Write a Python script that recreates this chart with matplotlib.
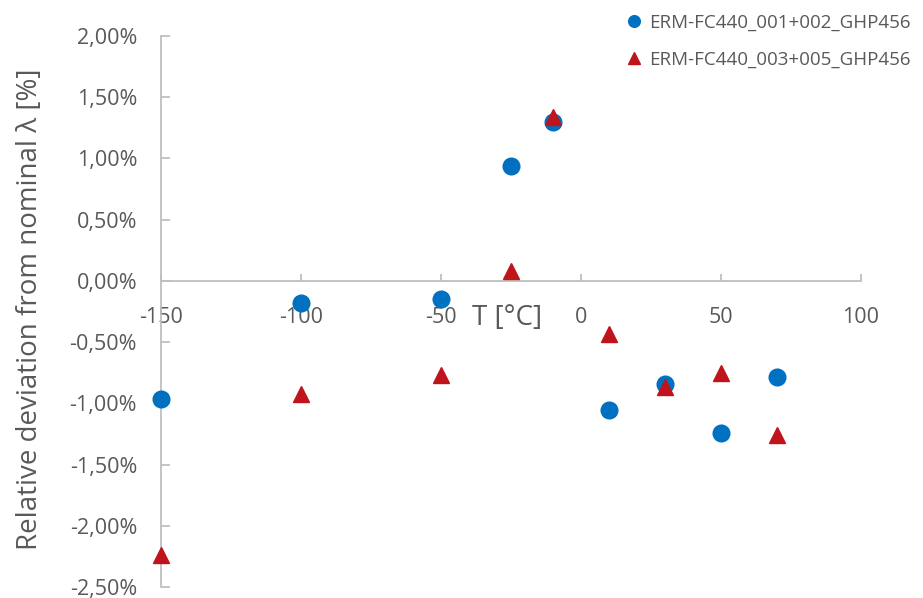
import matplotlib
matplotlib.use("Agg")
import matplotlib.pyplot as plt
from matplotlib.ticker import FuncFormatter, MultipleLocator

plt.rcParams['font.family'] = ['Open Sans', 'DejaVu Sans']

temps_a = [-150, -100, -50, -25, -10, 10, 30, 50, 70]
dev_a = [-0.966, -0.177, -0.147, 0.941, 1.296, -1.053, -0.841, -1.243, -0.789]
temps_b = [-150, -100, -50, -25, -10, 10, 30, 50, 70]
dev_b = [-2.242, -0.92, -0.767, 0.084, 1.336, -0.433, -0.868, -0.754, -1.26]
label_a = "ERM-FC440_001+002_GHP456"
label_b = "ERM-FC440_003+005_GHP456"

blue = '#0070C0'
red = '#C0141C'
gray_txt = '#595959'
gray_line = '#BFBFBF'

fig = plt.figure(figsize=(9.23, 5.98), dpi=100)
ax = fig.add_axes([0.1741, 0.0184, 0.7584, 0.9214])

ax.plot(temps_a, dev_a, linestyle='none', marker='o', markersize=12,
        color=blue, label=label_a, clip_on=False, zorder=3)
ax.plot(temps_b, dev_b, linestyle='none', marker='^', markersize=12,
        color=red, label=label_b, clip_on=False, zorder=4)

ax.set_xlim(-150, 100)
ax.set_ylim(-2.5, 2.0)
ax.xaxis.set_major_locator(MultipleLocator(50))
ax.yaxis.set_major_locator(MultipleLocator(0.5))
ax.yaxis.set_major_formatter(FuncFormatter(lambda v, p: f"{v:.2f}%".replace('.', ',')))
ax.xaxis.set_major_formatter(FuncFormatter(lambda v, p: f"{int(round(v))}"))

for s in ['top', 'right']:
    ax.spines[s].set_visible(False)
ax.spines['bottom'].set_position(('data', 0))
ax.spines['bottom'].set_color(gray_line)
ax.spines['left'].set_color(gray_line)
ax.spines['bottom'].set_linewidth(1.3)
ax.spines['left'].set_linewidth(1.3)

ax.tick_params(axis='y', direction='in', length=6.5, width=1.3, color=gray_line,
               labelcolor=gray_txt, labelsize=15.5, pad=17)
ax.tick_params(axis='x', direction='in', length=5, width=1.3, color=gray_line,
               labelcolor=gray_txt, labelsize=15.5, pad=18.5)

fig.text(30 / 923, 1 - 309 / 598, "Relative deviation from nominal λ [%]",
         rotation=90, ha='center', va='center', fontsize=20, color=gray_txt)
fig.text(507 / 923, 1 - 318 / 598, "T [°C]", ha='center', va='center',
         fontsize=20, color=gray_txt)

leg = ax.legend(loc='upper left', bbox_to_anchor=(622 / 923, 1 - 8 / 598),
                bbox_transform=fig.transFigure, frameon=False, fontsize=13.5,
                handlelength=0.7, handletextpad=0.45, labelspacing=1.0,
                markerscale=0.7, borderaxespad=0, borderpad=0.3)
for t in leg.get_texts():
    t.set_color(gray_txt)

fig.savefig("out.png", dpi=100)
